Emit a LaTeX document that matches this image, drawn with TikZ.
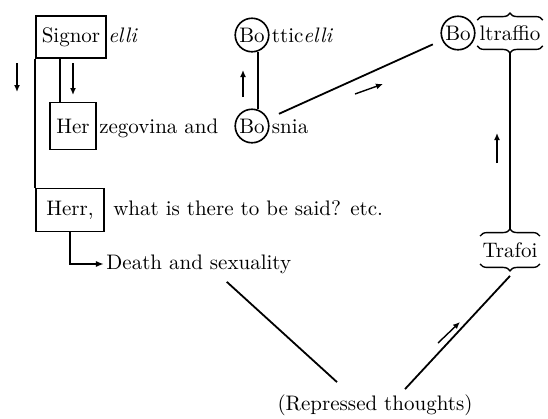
\documentclass[tikz,border=0pt]{standalone}
\usetikzlibrary{positioning,arrows.meta,decorations.pathreplacing}
\tikzset{
  wort/.style={inner sep=0pt, font=\fontsize{10.5}{12}\selectfont},
  kasten/.style={draw, line width=0.9pt, inner sep=2pt, font=\fontsize{10.5}{12}\selectfont},
  silbe/.style={circle, draw, line width=0.8pt, inner sep=0.8pt, font=\fontsize{10.5}{12}\selectfont},
  linie/.style={line width=0.9pt},
  merk/.style={line width=0.7pt, -{Latex[length=3.5pt,width=3pt]}},
  klammer/.style={line width=0.7pt, decorate, decoration={brace, amplitude=3.5pt}},
}
\begin{document}
\begin{tikzpicture}[x=0.5pt, y=-0.5pt]
  \useasboundingbox (0,0) rectangle (548,419);
  % linke Spalte
  \node[kasten, minimum width=35pt, minimum height=21pt] (signor) at (71,37) {Signor};
  \node[wort, anchor=base west, xshift=0.5pt] (elli) at (signor.base east) {\textit{elli}};
  \node[kasten, minimum width=23pt, minimum height=23.5pt] (her) at (73,126) {Her};
  \node[wort, anchor=base west, xshift=1pt] (zego) at (her.base east) {zegovina and};
  \node[kasten, minimum width=34pt, minimum height=21.5pt] (herr) at (70,210) {Herr,};
  \node[wort, anchor=base west, xshift=4pt] (rest) at (herr.base east) {what is there to be said? etc.};
  \node[wort, anchor=west, inner sep=1pt] (tod) at (104,264) {Death and sexuality};
  % Bo-Silben
  \node[silbe] (bot) at (252,35) {Bo};
  \node[wort, anchor=base west, xshift=1pt] (tticelli) at (bot.east |- bot.base) {ttic\textit{elli}};
  \node[silbe] (bos) at (252,126) {Bo};
  \node[wort, anchor=base west, xshift=1pt] (snia) at (bos.east |- bos.base) {snia};
  \node[silbe] (bolt) at (458,33) {Bo};
  \node[wort, inner ysep=2.5pt, inner xsep=1pt] (traffio) at (510,33) {ltraffio};
  \node[wort, inner ysep=3pt, inner xsep=1pt] (trafoi) at (510,250) {Trafoi};
  \node[wort, inner sep=1pt] (rep) at (375,405) {(Repressed thoughts)};
  % Klammern
  \draw[klammer] (traffio.north west) -- (traffio.north east);
  \draw[klammer] (traffio.south east) -- (traffio.south west);
  \draw[klammer] (trafoi.north west) -- (trafoi.north east);
  \draw[klammer] (trafoi.south east) -- (trafoi.south west);
  % Verbindungen
  \draw[linie] (signor.south west) -- (herr.north west);
  \coordinate (herab) at ([xshift=5.5pt]her.north west);
  \draw[linie] (herab) -- (herab |- signor.south);
  \draw[linie] (bos.70) -- (bot.-70);
  \draw[linie, shorten <=6pt, shorten >=5pt] (bos) -- (bolt);
  \draw[linie, shorten <=3.5pt, shorten >=3.5pt] (traffio.south) -- (trafoi.north);
  \draw[linie, -{Latex[length=4pt,width=3pt]}] (herr.south) |- (tod.west);
  \draw[linie] ([xshift=14pt,yshift=-3pt]tod.south) -- ([xshift=-19pt,yshift=5pt]rep.north);
  \draw[linie] ([xshift=15pt,yshift=1.5pt]rep.north) -- ([yshift=-6pt]trafoi.south);
  % Richtungspfeile
  \coordinate (m1a) at (17,63);   \coordinate (m1b) at (17,92);
  \coordinate (m2a) at (73,63);   \coordinate (m2b) at (73,95);
  \coordinate (m3a) at (243,97);  \coordinate (m3b) at (243,70);
  \coordinate (m4a) at (355,94);  \coordinate (m4b) at (383,84);
  \coordinate (m5a) at (497,163); \coordinate (m5b) at (497,133);
  \coordinate (m6a) at (438,343); \coordinate (m6b) at (460,322);
  \draw[merk] (m1a) -- (m1b);
  \draw[merk] (m2a) -- (m2b);
  \draw[merk] (m3a) -- (m3b);
  \draw[merk] (m4a) -- (m4b);
  \draw[merk] (m5a) -- (m5b);
  \draw[merk] (m6a) -- (m6b);
\end{tikzpicture}
\end{document}
